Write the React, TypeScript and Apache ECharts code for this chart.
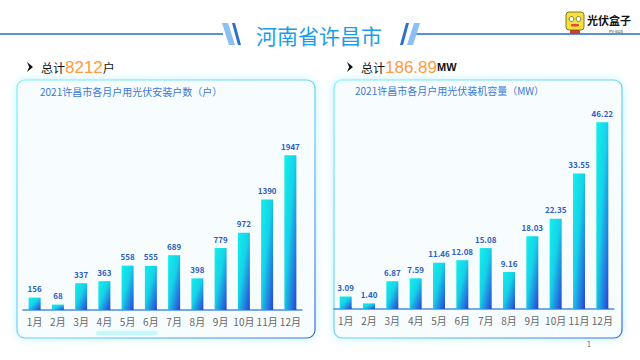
import React, { useEffect, useRef } from "react";
import * as echarts from "echarts";

const months = ["1月", "2月", "3月", "4月", "5月", "6月", "7月", "8月", "9月", "10月", "11月", "12月"];
const households = [156, 68, 337, 363, 558, 555, 689, 398, 779, 972, 1390, 1947];
const capacity = ["3.09", "1.40", "6.87", "7.59", "11.46", "12.08", "15.08", "9.16", "18.03", "22.35", "33.55", "46.22"];
const totalHouseholds = "8212";
const totalCapacity = "186.89";

const FONT = '"Noto Sans CJK SC", "Noto Sans", sans-serif';
const NUMFONT = '"Liberation Sans", Arial, sans-serif';

const barGradient = () =>
  new echarts.graphic.LinearGradient(0, 0, 1, 1, [
    { offset: 0, color: "#12f0ea" },
    { offset: 0.45, color: "#16d2e8" },
    { offset: 1, color: "#2a3fd8" },
  ]);

const panelStroke = () =>
  new echarts.graphic.LinearGradient(0, 0, 1, 1, [
    { offset: 0, color: "#7ef0f6" },
    { offset: 0.6, color: "#6fc8f4" },
    { offset: 1, color: "#3d62e6" },
  ]);

function panel(x: number, y: number, w: number, h: number) {
  return {
    type: "rect",
    z: 0,
    shape: { x, y, width: w, height: h, r: 8 },
    style: {
      fill: "#f7fdff",
      stroke: panelStroke(),
      lineWidth: 1.2,
      shadowBlur: 8,
      shadowColor: "rgba(110,230,250,0.45)",
    },
  };
}

function arrow(x: number, y: number) {
  return {
    type: "polygon",
    z: 5,
    shape: { points: [[x, y - 5], [x + 6, y], [x, y + 5], [x + 2.2, y]] },
    style: { fill: "#111" },
  };
}

function total(x: number, y: number, num: string, unit: string) {
  return {
    type: "text",
    z: 5,
    x,
    y,
    style: {
      text: `{a|总计}{b|${num}}{c|${unit}}`,
      verticalAlign: "middle",
      rich: {
        a: { fontSize: 12, fill: "#111", fontFamily: FONT },
        b: { fontSize: 17, fill: "#ff9a3c", fontFamily: NUMFONT },
        c:
          unit === "MW"
            ? { fontSize: 11, fill: "#111", fontFamily: NUMFONT, fontWeight: "bold" }
            : { fontSize: 12, fill: "#111", fontFamily: FONT },
      },
    },
  };
}

export default function App() {
  const ref = useRef<HTMLDivElement>(null);
  useEffect(() => {
    document.body.style.margin = "0";
    const chart = echarts.init(ref.current!, null, { renderer: "svg" });
    const labelStyle = {
      show: true,
      position: "top",
      distance: 5,
      fontSize: 8,
      fontWeight: "bold",
      color: "#2d5fc4",
      fontFamily: FONT,
    };
    const xAxisCommon = {
      type: "category",
      data: months,
      axisTick: { show: false },
      axisLine: { lineStyle: { color: "#4a90d8", width: 1.5 } },
      axisLabel: { color: "#666", fontSize: 10, margin: 6, fontFamily: FONT, interval: 0 },
    };
    chart.setOption({
      animation: false,
      backgroundColor: "#ffffff",
      grid: [
        { left: 23, right: 338, top: 135, bottom: 50 },
        { left: 334, right: 26, top: 107, bottom: 51 },
      ],
      xAxis: [
        { ...xAxisCommon, gridIndex: 0 },
        { ...xAxisCommon, gridIndex: 1 },
      ],
      yAxis: [
        { type: "value", gridIndex: 0, min: 0, max: 2200, show: false },
        { type: "value", gridIndex: 1, min: 0, max: 50, show: false },
      ],
      series: [
        {
          type: "bar",
          xAxisIndex: 0,
          yAxisIndex: 0,
          data: households,
          barWidth: 12,
          itemStyle: { color: barGradient() },
          label: labelStyle,
          z: 3,
        },
        {
          type: "bar",
          xAxisIndex: 1,
          yAxisIndex: 1,
          data: capacity.map(Number),
          barWidth: 12,
          itemStyle: { color: barGradient() },
          label: { ...labelStyle, formatter: (p: any) => capacity[p.dataIndex] },
          z: 3,
        },
      ],
      graphic: [
        { type: "line", z: 1, shape: { x1: 0, y1: 34, x2: 223, y2: 34 }, style: { stroke: "#1f6fc8", lineWidth: 1.5 } },
        { type: "line", z: 1, shape: { x1: 413, y1: 34, x2: 640, y2: 34 }, style: { stroke: "#1f6fc8", lineWidth: 1.5 } },
        { type: "polygon", z: 2, shape: { points: [[222, 23], [228, 23], [235, 45], [229, 45]] }, style: { fill: "#8cbff4" } },
        { type: "polygon", z: 2, shape: { points: [[232, 23], [235, 23], [241, 45], [238, 45]] }, style: { fill: "#2b6fcc" } },
        { type: "polygon", z: 2, shape: { points: [[406, 23], [409, 23], [403, 45], [400, 45]] }, style: { fill: "#2b6fcc" } },
        { type: "polygon", z: 2, shape: { points: [[414, 23], [420, 23], [413, 45], [407, 45]] }, style: { fill: "#8cbff4" } },
        {
          type: "text",
          z: 2,
          x: 319,
          y: 35,
          style: { text: "河南省许昌市", fontSize: 21, fill: "#1b9de8", fontFamily: FONT, align: "center", verticalAlign: "middle" },
        },
        // logo
        { type: "rect", z: 2, shape: { x: 566, y: 12, width: 18, height: 18, r: 3 }, style: { fill: "#f4e23c", stroke: "#6b5a10", lineWidth: 0.8 } },
        { type: "circle", z: 3, shape: { cx: 571.5, cy: 19, r: 2.4 }, style: { fill: "#fff", stroke: "#333", lineWidth: 0.6 } },
        { type: "circle", z: 3, shape: { cx: 578.5, cy: 19, r: 2.4 }, style: { fill: "#fff", stroke: "#333", lineWidth: 0.6 } },
        { type: "rect", z: 3, shape: { x: 571, y: 24, width: 8, height: 2.5, r: 1 }, style: { fill: "#e0463a" } },
        { type: "rect", z: 1, shape: { x: 570, y: 30, width: 10, height: 4, r: 1 }, style: { fill: "#d23a30" } },
        {
          type: "text",
          z: 3,
          x: 587,
          y: 20,
          style: { text: "光伏盒子", fontSize: 11, fontWeight: "bold", fill: "#111", fontFamily: FONT, verticalAlign: "middle" },
        },
        {
          type: "text",
          z: 3,
          x: 623,
          y: 31,
          style: { text: "PV-BOX", fontSize: 4, fill: "#333", fontFamily: FONT, align: "right", verticalAlign: "middle" },
        },
        // totals
        arrow(27, 67),
        total(41, 67, totalHouseholds, "户"),
        arrow(347, 67),
        total(361, 67, totalCapacity, "MW"),
        // panels
        panel(17, 80, 298, 258),
        panel(334, 80, 288, 258),
        {
          type: "text",
          z: 1,
          x: 40,
          y: 91,
          style: { text: "2021许昌市各月户用光伏安装户数（户）", fontSize: 10, fill: "#3b78d8", fontFamily: FONT, verticalAlign: "middle" },
        },
        {
          type: "text",
          z: 1,
          x: 355,
          y: 90,
          style: { text: "2021许昌市各月户用光伏装机容量（MW）", fontSize: 10, fill: "#3b78d8", fontFamily: FONT, verticalAlign: "middle" },
        },
        {
          type: "rect",
          z: 1,
          shape: { x: 96, y: 331, width: 62, height: 4, r: 2 },
          style: { fill: "rgba(150,245,250,0.45)", shadowBlur: 4, shadowColor: "rgba(150,245,250,0.6)" },
        },
        {
          type: "text",
          z: 1,
          x: 589,
          y: 343,
          style: { text: "1", fontSize: 8, fill: "#777", fontFamily: FONT, align: "center", verticalAlign: "middle" },
        },
      ],
    });
    return () => chart.dispose();
  }, []);
  return <div ref={ref} style={{ width: 640, height: 360 }} />;
}
